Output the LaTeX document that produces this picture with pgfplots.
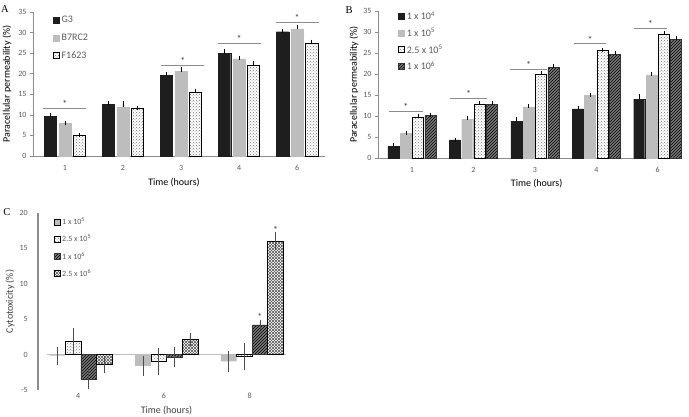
\documentclass[border=0pt]{standalone}
\usepackage{pgfplots}
\pgfplotsset{compat=1.18}
\usepackage{fontspec}
\setmainfont{Carlito}
\newfontfamily\serifpanel{Liberation Serif}
\usetikzlibrary{patterns}
\definecolor{barblack}{HTML}{1E1E1E}
\definecolor{bargray}{HTML}{BDBDBD}
\definecolor{axgray}{HTML}{8C8C8C}
\definecolor{txtgray}{HTML}{595959}
\definecolor{labgray}{HTML}{404040}
\definecolor{hatchfill}{HTML}{7A7A7A}
\newcommand\tickfont{\fontsize{8}{9}\selectfont}
\newcommand\labfont{\fontsize{10}{12}\selectfont}
\tikzset{sigstar/.style={anchor=south, inner sep=0.5pt, font=\labfont, text=labgray},
  ytl/.style={anchor=east, inner sep=0pt, font=\tickfont, text=txtgray, xshift=-10pt},
  xtl/.style={anchor=north, inner sep=0pt, font=\tickfont, text=txtgray, yshift=-3pt}}
\pgfplotsset{
  panel/.style={scale only axis, axis x line*=bottom, axis y line*=left,
    separate axis lines,
    axis line style={axgray, line width=0.7pt},
    tick label style={font=\tickfont, text=txtgray},
    label style={font=\labfont, text=labgray},
    /pgf/number format/assume math mode=true,
    xtick style={draw=none}, ytick style={axgray, line width=0.6pt},
    tick align=outside, major tick length=3pt,
    legend cell align=left,
    legend style={draw=none, fill=none, inner sep=0pt, row sep=4pt, font=\labfont, text=txtgray},
    legend image code/.code={\draw[##1] (0pt,-3pt) rectangle (6pt,3pt);},
    clip=false},
  bars/.style={ybar, bar width=#1, bar shift=0pt},
  errp/.style={error bars/.cd, y dir=plus, y explicit,
    error bar style={black, line width=0.5pt},
    error mark options={mark size=2pt, black, line width=0.5pt}},
  errb/.style={error bars/.cd, y dir=both, y explicit,
    error bar style={black!70, line width=0.6pt},
    error mark options={mark size=2.5pt, black!70, line width=0.6pt}},
  sig/.style={axgray, line width=0.6pt, no marks, forget plot},
  dotbar/.style={draw=black, line width=0.6pt, fill=white, postaction={pattern=crosshatch dots, pattern color=black!55}},
  hatchbar/.style={draw=black!80, line width=0.5pt, fill=hatchfill, postaction={pattern=north east lines, pattern color=black}},
  crossbar/.style={draw=black, line width=0.6pt, fill=white, postaction={pattern=north east lines, pattern color=black!65}, postaction={pattern=north west lines, pattern color=black!65}},
}
\begin{document}
\begin{tikzpicture}
\useasboundingbox (0pt,0pt) rectangle (689pt,-417pt);
\node[font=\serifpanel\fontsize{10.5}{12}\selectfont, anchor=center] at (5pt,-9pt) {A};
\node[font=\serifpanel\fontsize{10.5}{12}\selectfont, anchor=center] at (349pt,-10pt) {B};
\node[font=\serifpanel\fontsize{10.5}{12}\selectfont, anchor=center] at (7pt,-212pt) {C};
% Panel A
\begin{axis}[panel, at={(33pt,-156pt)}, anchor=south west, width=292pt, height=144pt,
  xmin=0.45, xmax=5.48, ymin=0, ymax=35, ytick={0,5,...,35},
  xtick={1,...,5}, xticklabels={1,2,3,4,6},
  xticklabel style={yshift=-3pt},
  xlabel={Time (hours)}, ylabel={Paracellular permeability (\%)},
  every axis x label/.style={at={(axis description cs:0.483,-0.1875)}, anchor=center},
  every axis y label/.style={at={(axis description cs:-0.089,0.5)}, rotate=90, anchor=center},
  legend style={at={(axis description cs:0.068,0.985)}, anchor=north west, row sep=5.5pt}]
\addplot[bars=12.3pt, fill=barblack, draw=barblack, errp] coordinates {
 (0.75,9.7) +- (0,0.2) (1.75,12.6) +- (0,0.3) (2.75,19.6) +- (0,0.3) (3.75,24.9) +- (0,0.5) (4.75,30.2) +- (0,0.3)};
\addlegendentry{G3}
\addplot[bars=12.3pt, fill=bargray, draw=bargray, errp] coordinates {
 (1,7.9) +- (0,0.2) (2,11.9) +- (0,0.9) (3,20.5) +- (0,0.6) (4,23.6) +- (0,0.3) (5,30.9) +- (0,0.4)};
\addlegendentry{B7RC2}
\addplot[bars=12.3pt, dotbar, errp] coordinates {
 (1.25,5.0) +- (0,0.2) (2.25,11.5) +- (0,0.2) (3.25,15.5) +- (0,0.3) (4.25,22.0) +- (0,0.5) (5.25,27.4) +- (0,0.4)};
\addlegendentry{F1623}
\addplot[sig] coordinates {(0.63,11.6) (1.37,11.6)};
\addplot[sig] coordinates {(2.66,22.1) (3.40,22.1)};
\addplot[sig] coordinates {(3.63,27.4) (4.37,27.4)};
\addplot[sig] coordinates {(4.63,32.6) (5.37,32.6)};
\node[sigstar] at (axis cs:1,11.6) {*};
\node[sigstar] at (axis cs:3.03,22.1) {*};
\node[sigstar] at (axis cs:4,27.4) {*};
\node[sigstar] at (axis cs:5,32.6) {*};
\end{axis}
% Panel B
\begin{axis}[panel, at={(378pt,-158pt)}, anchor=south west, width=300pt, height=147pt,
  xmin=0.447, xmax=5.33, ymin=0, ymax=35, ytick={0,5,...,35},
  xtick={1,...,5}, xticklabels={1,2,3,4,6},
  xticklabel style={yshift=-3pt},
  xlabel={Time (hours)}, ylabel={Paracellular permeability (\%)},
  every axis x label/.style={at={(axis description cs:0.529,-0.177)}, anchor=center},
  every axis y label/.style={at={(axis description cs:-0.08,0.5)}, rotate=90, anchor=center},
  legend style={at={(axis description cs:0.067,1.01)}, anchor=north west, row sep=3pt}]
\addplot[bars=11pt, fill=barblack, draw=barblack, errp] coordinates {
 (0.699,2.8) +- (0,0.3) (1.699,4.3) +- (0,0.1) (2.699,8.8) +- (0,0.4) (3.699,11.7) +- (0,0.3) (4.699,14.0) +- (0,0.7)};
\addlegendentry{1 x 10\textsuperscript{4}}
\addplot[bars=11pt, fill=bargray, draw=bargray, errp] coordinates {
 (0.899,5.9) +- (0,0.1) (1.899,9.2) +- (0,0.3) (2.899,12.2) +- (0,0.2) (3.899,14.9) +- (0,0.1) (4.899,19.8) +- (0,0.1)};
\addlegendentry{1 x 10\textsuperscript{5}}
\addplot[bars=11pt, dotbar, errp] coordinates {
 (1.101,9.8) +- (0,0.1) (2.101,12.9) +- (0,0.3) (3.101,20.0) +- (0,0.2) (4.101,25.6) +- (0,0.1) (5.101,29.5) +- (0,0.2)};
\addlegendentry{2.5 x 10\textsuperscript{5}}
\addplot[bars=11pt, hatchbar, errp] coordinates {
 (1.301,10.1) +- (0,0.2) (2.301,12.8) +- (0,0.2) (3.301,21.5) +- (0,0.3) (4.301,24.7) +- (0,0.2) (5.301,28.3) +- (0,0.3)};
\addlegendentry{1 x 10\textsuperscript{6}}
\addplot[sig] coordinates {(0.62,11.2) (1.18,11.2)};
\addplot[sig] coordinates {(1.62,14.2) (2.22,14.2)};
\addplot[sig] coordinates {(2.60,21.1) (3.19,21.1)};
\addplot[sig] coordinates {(3.64,27.2) (4.15,27.2)};
\addplot[sig] coordinates {(4.62,30.8) (5.15,30.8)};
\node[sigstar] at (axis cs:0.9,11.2) {*};
\node[sigstar] at (axis cs:1.92,14.2) {*};
\node[sigstar] at (axis cs:2.9,21.1) {*};
\node[sigstar] at (axis cs:3.9,27.2) {*};
\node[sigstar] at (axis cs:4.88,30.8) {*};
\end{axis}
% Panel C
\begin{axis}[panel, at={(38pt,-390pt)}, anchor=south west, width=257pt, height=177pt,
  xmin=0.5, xmax=3.5, ymin=-5, ymax=20, hide axis,
  legend style={at={(axis description cs:0.06,0.985)}, anchor=north west, row sep=5pt, font=\tickfont}]
\addplot[axgray, line width=1.3pt, no marks, forget plot] coordinates {(0.5,-5) (0.5,20)};
\addplot[black!25, line width=0.7pt, no marks, forget plot] coordinates {(0.6,0) (3.4,0)};
\addplot[bars=15.7pt, fill=bargray, draw=none, errb] coordinates {
 (0.726,-0.15) +- (0,0.9) (1.726,-1.6) +- (0,1.0) (2.726,-0.95) +- (0,1.1)};
\addlegendentry{1 x 10\textsuperscript{5}}
\addplot[bars=15.7pt, dotbar, errb] coordinates {
 (0.909,1.9) +- (0,1.45) (1.909,-1.0) +- (0,1.55) (2.909,-0.28) +- (0,1.5)};
\addlegendentry{2.5 x 10\textsuperscript{5}}
\addplot[bars=15.7pt, hatchbar, errb] coordinates {
 (1.091,-3.45) +- (0,1.0) (2.091,-0.4) +- (0,1.05) (3.091,4.2) +- (0,0.4)};
\addlegendentry{1 x 10\textsuperscript{6}}
\addplot[bars=15.7pt, crossbar, errb] coordinates {
 (1.274,-1.4) +- (0,0.9) (2.274,2.1) +- (0,0.6) (3.274,16.0) +- (0,0.9)};
\addlegendentry{2.5 x 10\textsuperscript{6}}
\node[sigstar] at (axis cs:3.091,4.7) {*};
\node[sigstar] at (axis cs:3.274,17.0) {*};
\node[ytl] at (axis cs:0.5,-5) {-5};
\node[ytl] at (axis cs:0.5,0) {0};
\node[ytl] at (axis cs:0.5,5) {5};
\node[ytl] at (axis cs:0.5,10) {10};
\node[ytl] at (axis cs:0.5,15) {15};
\node[ytl] at (axis cs:0.5,20) {20};
\node[xtl] at (axis cs:0.97,-5) {4};
\node[xtl] at (axis cs:1.97,-5) {6};
\node[xtl] at (axis cs:2.97,-5) {8};
\node[font=\labfont, text=labgray, anchor=center] at (axis description cs:0.5,-0.118) {Time (hours)};
\node[font=\labfont, text=labgray, anchor=center, rotate=90] at (axis description cs:-0.109,0.5) {Cytotoxicity (\%)};
\end{axis}
\end{tikzpicture}
\end{document}
